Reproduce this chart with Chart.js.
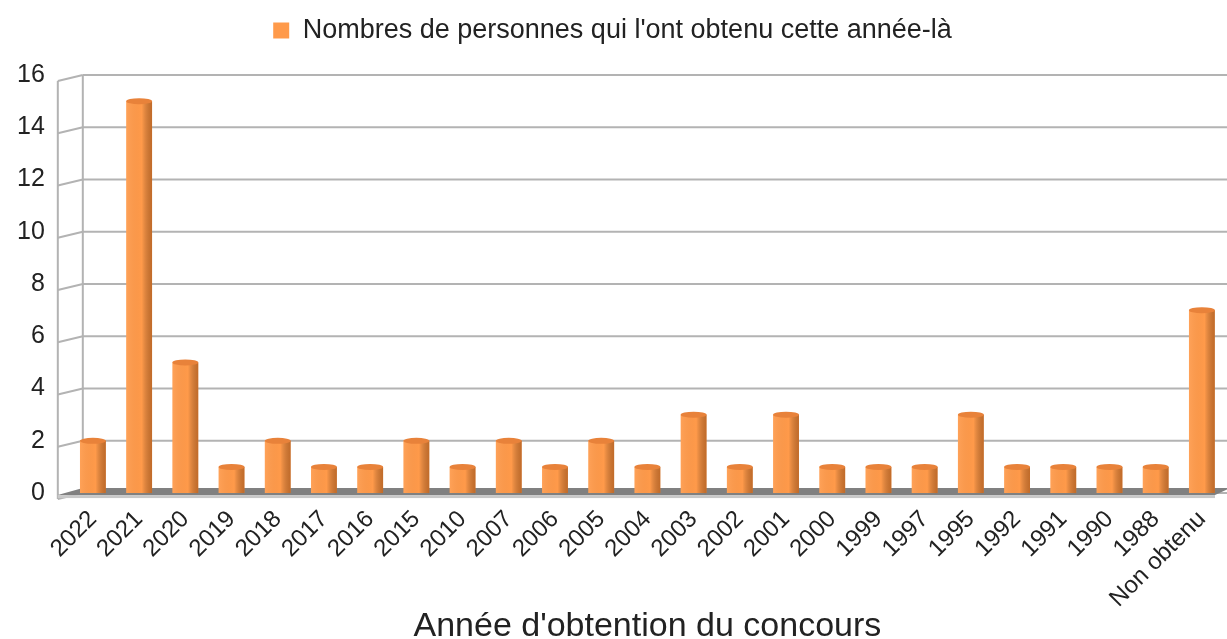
<!DOCTYPE html>
<html>
<head>
<meta charset="utf-8">
<script src="https://cdn.jsdelivr.net/npm/chart.js@4.4.1/dist/chart.umd.min.js"></script>
<style>
  html, body { margin: 0; padding: 0; background: #fff; }
  #wrap { width: 1227px; height: 639px; }
</style>
</head>
<body>
<div id="wrap"><canvas id="bar-chart" width="1227" height="639"></canvas></div>
<script>
const annees = ['2022', '2021', '2020', '2019', '2018', '2017', '2016', '2015', '2010', '2007',
  '2006', '2005', '2004', '2003', '2002', '2001', '2000', '1999', '1997', '1995',
  '1992', '1991', '1990', '1988', 'Non obtenu']
const personnes = [2, 15, 5, 1, 2, 1, 1, 2, 1, 2, 1, 2, 1, 3, 1, 3, 1, 1, 1, 3, 1, 1, 1, 1, 7]
const ticksY = [0, 2, 4, 6, 8, 10, 12, 14, 16]

const police = 'Liberation Sans, Arial, sans-serif'

// some room between the legend and the plot
const margeLegende = {
    id: 'margeLegende',
    beforeInit(chart) {
        const fit = chart.legend.fit
        chart.legend.fit = function () {
            fit.bind(chart.legend)()
            this.height += 21
        }
    }
}

// floor + walls, drawn behind the bars
const decor3d = {
    id: 'decor3d',
    beforeDatasetsDraw(chart) {
        const ctx = chart.ctx
        const a = chart.chartArea
        const y = chart.scales.y
        const gauche = a.left - 12
        const mur = a.left + 13
        ctx.save()
        ctx.strokeStyle = '#b3b3b3'
        ctx.lineWidth = 2
        ticksY.forEach(v => {
            const py = y.getPixelForValue(v)
            ctx.beginPath()
            ctx.moveTo(mur, py)
            ctx.lineTo(a.right + 5, py)
            ctx.stroke()
            ctx.beginPath()
            ctx.moveTo(gauche, py + 6)
            ctx.lineTo(mur, py)
            ctx.stroke()
        })
        ctx.beginPath()
        ctx.moveTo(mur, y.getPixelForValue(16))
        ctx.lineTo(mur, y.getPixelForValue(0))
        ctx.moveTo(gauche, y.getPixelForValue(16) + 6)
        ctx.lineTo(gauche, y.getPixelForValue(0) + 6)
        ctx.stroke()
        // floor
        const y0 = y.getPixelForValue(0)
        ctx.fillStyle = '#808080'
        ctx.beginPath()
        ctx.moveTo(mur, y0 - 5)
        ctx.lineTo(a.right + 5, y0 - 5)
        ctx.lineTo(a.right - 10, y0 + 2)
        ctx.lineTo(gauche, y0 + 2)
        ctx.closePath()
        ctx.fill()
        ctx.fillStyle = '#c8c8c8'
        ctx.fillRect(gauche, y0 + 2, a.right - 10 - gauche, 3)
        ctx.restore()
    },
    afterDatasetsDraw(chart) {
        const ctx = chart.ctx
        ctx.save()
        chart.getDatasetMeta(0).data.forEach(bar => {
            const w = bar.width
            const l = bar.x - w / 2
            // darker right side for a cylinder look
            const g = ctx.createLinearGradient(l, 0, l + w, 0)
            g.addColorStop(0, 'rgba(255,255,255,0.08)')
            g.addColorStop(0.6, 'rgba(0,0,0,0)')
            g.addColorStop(1, 'rgba(120,50,0,0.45)')
            ctx.fillStyle = g
            ctx.fillRect(l, bar.y, w, bar.base - bar.y)
            // top cap
            ctx.fillStyle = '#e8823a'
            ctx.beginPath()
            ctx.ellipse(bar.x, bar.y, w / 2, 3, 0, 0, Math.PI * 2)
            ctx.fill()
        })
        ctx.restore()
    }
}

new Chart(document.getElementById('bar-chart'), {
    type: 'bar',
    data: {
        labels: annees,
        datasets: [
            {
                data: personnes,
                label: "Nombres de personnes qui l'ont obtenu cette année-là",
                backgroundColor: '#ff9a4a',
                borderWidth: 0,
                barPercentage: 0.56,
                categoryPercentage: 1
            }
        ]
    },
    options: {
        responsive: false,
        animation: false,
        layout: { padding: { left: 0, right: 2, top: 3, bottom: 0 } },
        plugins: {
            legend: {
                position: 'top',
                labels: {
                    font: { family: police, size: 27 },
                    color: '#222',
                    boxWidth: 16,
                    boxHeight: 16,
                    padding: 14
                }
            },
            tooltip: { enabled: false }
        },
        scales: {
            x: {
                grid: { display: false },
                border: { display: false },
                ticks: {
                    font: { family: police, size: 24 },
                    color: '#222',
                    autoSkip: false,
                    minRotation: 45,
                    maxRotation: 45,
                    padding: 4
                },
                title: {
                    display: true,
                    text: "Année d'obtention du concours",
                    font: { family: police, size: 34 },
                    color: '#222',
                    padding: { top: -11, bottom: -8 }
                }
            },
            y: {
                min: 0,
                max: 16,
                grid: { display: false },
                border: { display: false },
                afterBuildTicks: axis => { axis.ticks = ticksY.map(v => ({ value: v })) },
                ticks: {
                    font: { family: police, size: 25 },
                    color: '#222',
                    padding: 17
                }
            }
        }
    },
    plugins: [margeLegende, decor3d]
});
</script>
</body>
</html>
